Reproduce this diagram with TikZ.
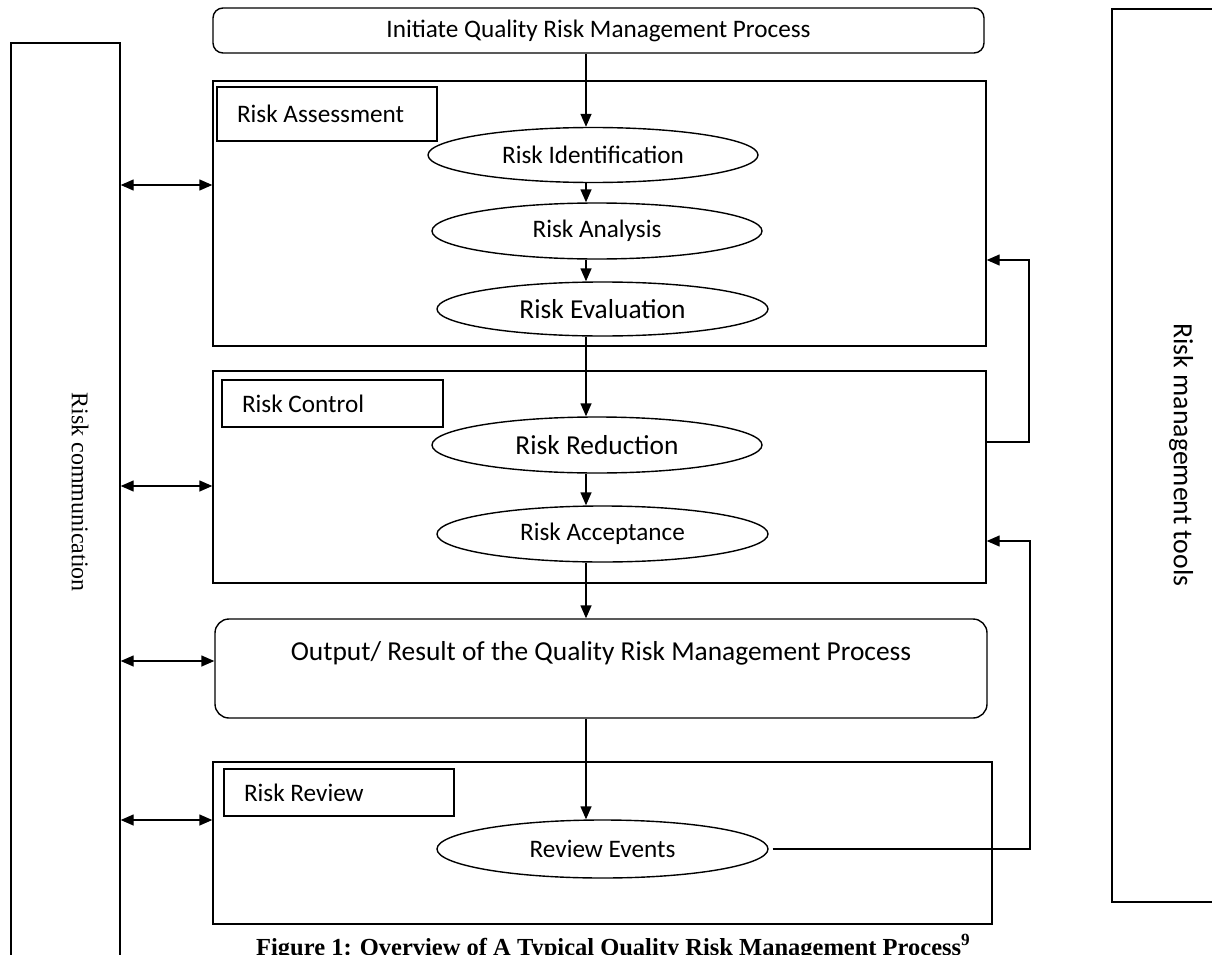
\documentclass[tikz,border=0pt]{standalone}
\usepackage{fontspec}
\setmainfont{Carlito}
\newfontfamily\capfont{Liberation Serif}
\usetikzlibrary{arrows.meta,shapes.geometric}

\begin{document}
\begin{tikzpicture}[
  x=1pt, y=-1pt,
  font=\fontsize{25.2}{29}\selectfont,
  box/.style={draw, line width=1.4pt, inner sep=0pt},
  roundbox/.style={box, rounded corners=10pt},
  lblbox/.style={box, align=flush left, inner xsep=20pt},
  ellip/.style={draw, ellipse, line width=1.4pt, inner sep=0pt},
  line/.style={line width=1.4pt, -{Triangle[length=13pt,width=11pt]}},
  dline/.style={line width=1.4pt, {Triangle[length=13pt,width=11pt]}-{Triangle[length=13pt,width=11pt]}}
]
\useasboundingbox (0,0) rectangle (1212,955);
\clip (0,0) rectangle (1212,955);

% side columns
\node[box, minimum width=109pt, minimum height=940pt] (comm) at (65.5,513) {};
\node[rotate=-90, font=\capfont\fontsize{24}{28}\selectfont] (commtxt) at (80,492) {Risk communication};
\node[box, minimum width=140pt, minimum height=893pt] (tools) at (1182,455.5) {};
\node[rotate=-90, font=\fontsize{27.8}{31}\selectfont] (toolstxt) at (1181,455) {Risk management tools};

% start
\node[roundbox, minimum width=771pt, minimum height=45pt] (init) at (598.5,30.5) {Initiate Quality Risk Management Process};

% risk assessment
\node[box, minimum width=773pt, minimum height=265pt] (assess) at (599.5,213.5) {};
\node[lblbox, minimum height=54pt, text width=180pt] (assesslbl) at (327,114) {Risk Assessment};
\node[ellip, minimum width=330pt, minimum height=55pt] (ident) at (593,155) {Risk Identification};
\node[ellip, minimum width=330pt, minimum height=56pt] (analysis) at (597,231) {Risk Analysis};
\node[ellip, minimum width=331pt, minimum height=54pt, font=\fontsize{27.4}{31}\selectfont] (evalu) at (602.5,309) {Risk Evaluation};

% risk control
\node[box, minimum width=773pt, minimum height=212pt] (control) at (599.5,477) {};
\node[lblbox, minimum height=47pt, text width=181pt] (controllbl) at (332.5,403.5) {Risk Control};
\node[ellip, minimum width=330pt, minimum height=56pt, font=\fontsize{27.4}{31}\selectfont] (reduct) at (597,445) {Risk Reduction};
\node[ellip, minimum width=331pt, minimum height=56pt] (accept) at (602.5,534) {Risk Acceptance};

% output
\node[roundbox, rounded corners=14pt, minimum width=772pt, text height=41pt, text depth=58pt, font=\fontsize{27.4}{31}\selectfont] (output) at (601,668.5) {Output/ Result of the Quality Risk Management Process};

% risk review
\node[box, minimum width=779pt, minimum height=162pt] (review) at (602.5,843) {};
\node[lblbox, minimum height=47pt, text width=190pt] (reviewlbl) at (339,792.5) {Risk Review};
\node[ellip, minimum width=331pt, minimum height=58pt] (events) at (602.5,849) {Review Events};

% caption
\node[anchor=base west, inner sep=0pt, font=\capfont\bfseries\fontsize{24.5}{28}\selectfont] (caption) at (256,955) {Figure 1: Overview of A Typical Quality Risk Management Process\textsuperscript{9}};

% main flow
\coordinate (spine) at (586,0);
\draw[line] (init.south -| spine) -- (ident.north -| spine);
\draw[line] (ident.south -| spine) -- (analysis.north -| spine);
\draw[line] (analysis.south -| spine) -- (evalu.north -| spine);
\draw[line] (evalu.south -| spine) -- (reduct.north -| spine);
\draw[line] (reduct.south -| spine) -- (accept.north -| spine);
\draw[line] (accept.south -| spine) -- (output.north -| spine);
\draw[line] (output.south -| spine) -- (events.north -| spine);

% communication
\draw[dline] (comm.east |- 0,185) -- (assess.west |- 0,185);
\draw[dline] (comm.east |- 0,486) -- (control.west |- 0,486);
\draw[dline] (comm.east |- 0,661) -- (output.west |- 0,661);
\draw[dline] (comm.east |- 0,820) -- (review.west |- 0,820);

% feedback
\draw[line] (control.east |- 0,442) -- (1029,442) |- (assess.east |- 0,260);
\draw[line] ([xshift=4pt]events.east) -- (1030,849) |- (control.east |- 0,541);
\end{tikzpicture}
\end{document}
